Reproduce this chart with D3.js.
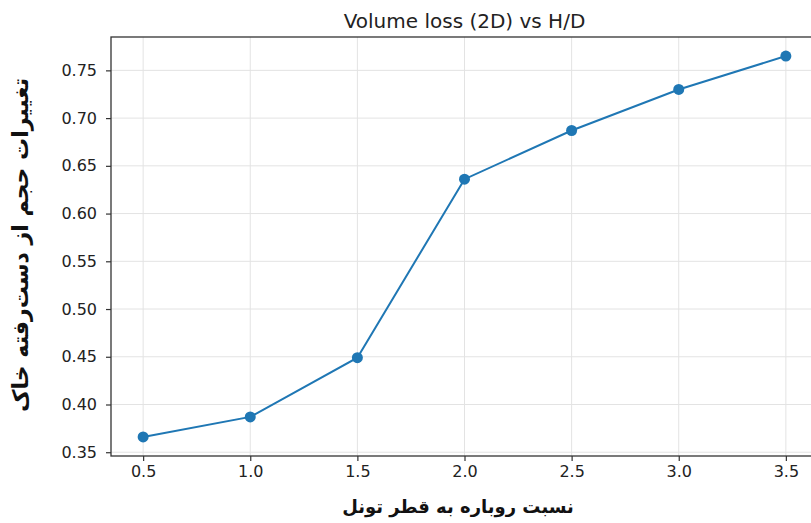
<!DOCTYPE html>
<html>
<head>
<meta charset="utf-8">
<script src="https://cdn.jsdelivr.net/npm/d3@7"></script>
<style>
  body { margin: 0; background: #fff; }
  svg { display: block; }
</style>
</head>
<body>
<div id="chart"></div>
<script>
const W = 811, H = 523
const margin = {top: 37, right: -7, bottom: 67, left: 111}
const width = W - margin.left - margin.right
const height = H - margin.top - margin.bottom

// data
const ratios = [0.5, 1.0, 1.5, 2.0, 2.5, 3.0, 3.5]
const volumeLoss = [0.366, 0.387, 0.449, 0.636, 0.687, 0.730, 0.765]
const xTicks = [0.5, 1.0, 1.5, 2.0, 2.5, 3.0, 3.5]
const yTicks = [0.35, 0.40, 0.45, 0.50, 0.55, 0.60, 0.65, 0.70, 0.75]

const titleText = "Volume loss (2D) vs H/D"
const xLabel = "نسبت روباره به قطر تونل"
const yLabel = "تغییرات حجم از دست‌رفته خاک"

const data = ratios.map((r, i) => ({x: r, y: volumeLoss[i]}))

// matplotlib style 5% padding
const xSpan = d3.max(ratios) - d3.min(ratios)
const ySpan = d3.max(volumeLoss) - d3.min(volumeLoss)
var x = d3.scaleLinear()
  .domain([d3.min(ratios) - xSpan*0.05, d3.max(ratios) + xSpan*0.05])
  .range([0, width])
var y = d3.scaleLinear()
  .domain([d3.min(volumeLoss) - ySpan*0.05, d3.max(volumeLoss) + ySpan*0.05])
  .range([height, 0])

var root = d3.select("#chart").append("svg")
  .attr("width", W)
  .attr("height", H)

var svg = root.append("g")
  .attr("transform", "translate(" + margin.left + "," + margin.top + ")")

// grid
svg.append("g")
  .selectAll("line.vx")
  .data(xTicks).enter().append("line")
  .attr("x1", d => x(d)).attr("x2", d => x(d))
  .attr("y1", 0).attr("y2", height)
  .attr("stroke", "#e3e3e3").attr("stroke-width", 1)
svg.append("g")
  .selectAll("line.hy")
  .data(yTicks).enter().append("line")
  .attr("y1", d => y(d)).attr("y2", d => y(d))
  .attr("x1", 0).attr("x2", width)
  .attr("stroke", "#e3e3e3").attr("stroke-width", 1)

// axes
const xAxis = svg.append("g")
  .attr("transform", "translate(0," + height + ")")
  .call(d3.axisBottom(x).tickValues(xTicks).tickFormat(d3.format(".1f")).tickSizeOuter(0).tickSize(5).tickPadding(5))
const yAxis = svg.append("g")
  .call(d3.axisLeft(y).tickValues(yTicks).tickFormat(d3.format(".2f")).tickSizeOuter(0).tickSize(5).tickPadding(9))

;[xAxis, yAxis].forEach(a => {
  a.select(".domain").remove()
  a.selectAll(".tick line").attr("stroke", "#333").attr("stroke-width", 1.2)
  a.selectAll(".tick text")
    .style("font-family", "DejaVu Sans")
    .style("font-size", "16px")
    .attr("fill", "#222")
})

// frame
svg.append("rect")
  .attr("x", 0).attr("y", 0)
  .attr("width", width).attr("height", height)
  .attr("fill", "none")
  .attr("stroke", "#333")
  .attr("stroke-width", 1.3)

// series
svg.append("path")
  .datum(data)
  .attr("fill", "none")
  .attr("stroke", "#1f77b4")
  .attr("stroke-width", 2)
  .attr("d", d3.line()
    .x(function(d) { return x(d.x) })
    .y(function(d) { return y(d.y) }))

svg.selectAll("circle.pt")
  .data(data).enter().append("circle")
  .attr("cx", d => x(d.x))
  .attr("cy", d => y(d.y))
  .attr("r", 5.5)
  .attr("fill", "#1f77b4")

// title
root.append("text")
  .attr("x", margin.left + width/2)
  .attr("y", 28)
  .attr("text-anchor", "middle")
  .style("font-family", "DejaVu Sans")
  .style("font-size", "20px")
  .attr("fill", "#222")
  .text(titleText)

// axis labels
root.append("text")
  .attr("x", 458)
  .attr("y", 513)
  .attr("text-anchor", "middle")
  .attr("direction", "rtl")
  .style("font-family", "DejaVu Sans")
  .style("font-weight", "bold")
  .style("font-size", "18px")
  .attr("fill", "#111")
  .text(xLabel)

root.append("text")
  .attr("transform", "translate(28,245) rotate(-90)")
  .attr("text-anchor", "middle")
  .attr("direction", "rtl")
  .style("font-family", "DejaVu Sans")
  .style("font-weight", "bold")
  .style("font-size", "22px")
  .attr("fill", "#111")
  .text(yLabel)
</script>
</body>
</html>
